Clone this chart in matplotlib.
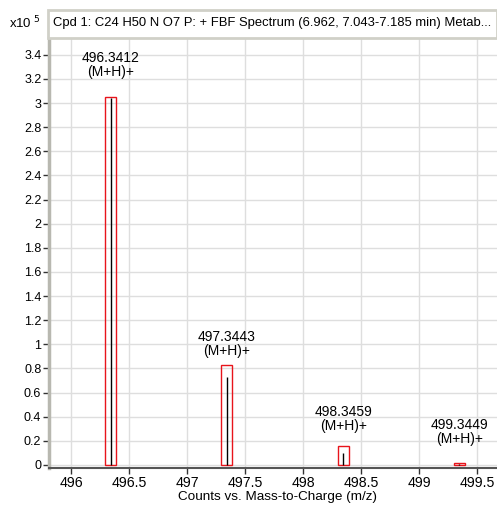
import matplotlib
matplotlib.use("Agg")
from matplotlib import pyplot as plt
from matplotlib.patches import Rectangle

plt.rcParams['font.family'] = ['Liberation Sans', 'DejaVu Sans']

# observed peaks (black sticks), counts x10^5
mz = [496.3412, 497.3443, 498.3459, 499.3449]
observed = [3.04, 0.73, 0.097, 0.005]
# predicted isotope pattern (red boxes)
pred_mz = [496.340, 497.342, 498.344, 499.347]
predicted = [3.05, 0.83, 0.158, 0.02]
ion = "(M+H)+"

xticks = [496, 496.5, 497, 497.5, 498, 498.5, 499, 499.5]
yticks = [0, 0.2, 0.4, 0.6, 0.8, 1, 1.2, 1.4, 1.6, 1.8, 2, 2.2, 2.4, 2.6, 2.8, 3, 3.2, 3.4]
title = "Cpd 1: C24 H50 N O7 P: + FBF Spectrum (6.962, 7.043-7.185 min) Metab..."

fig = plt.figure(figsize=(4.97, 5.05), dpi=100)
ax = fig.add_axes([0.0986, 0.0733, 0.9014, 0.8515])

ax.bar(pred_mz, predicted, width=0.095, fill=False, edgecolor='#e8141b', linewidth=1.0, zorder=3)
ax.vlines(mz, 0, observed, color='black', linewidth=1.0, zorder=4)

# label offsets in points above each box
offsets = [13, 5, 9, 12]
for x, h, m, off in zip(pred_mz, predicted, mz, offsets):
    ax.annotate(f"{m:.4f}\n{ion}", (x, h), xytext=(0, off), textcoords='offset points',
                ha='center', va='bottom', fontsize=10, linespacing=1.0)

ax.set_xlim(495.81, 499.67)
ax.set_ylim(-0.025, 3.54)
ax.set_xticks(xticks)
ax.set_xticklabels([f"{t:g}" for t in xticks])
ax.set_yticks(yticks)
ax.set_yticklabels([f"{t:g}" for t in yticks])
ax.tick_params(length=4, width=1, color='#333333', pad=1.5)
ax.tick_params(axis='x', labelsize=10.2)
ax.tick_params(axis='y', labelsize=9)
ax.grid(True, color='#dedede', linewidth=1)
ax.set_axisbelow(True)
for s in ['top', 'right']:
    ax.spines[s].set_visible(False)
ax.spines['left'].set_color('#b8b8b0')
ax.spines['left'].set_linewidth(2.5)
ax.spines['bottom'].set_color('#555555')
ax.spines['bottom'].set_linewidth(1.5)
ax.set_xlabel("Counts vs. Mass-to-Charge (m/z)", fontsize=9.7, va='center')
ax.xaxis.set_label_coords(0.51, -0.067)

# title strip
fig.patches.append(Rectangle((48 / 497, 1 - 38 / 505), 1 - 48 / 497, 28 / 505,
                             transform=fig.transFigure, facecolor='white',
                             edgecolor='#d0d0c8', linewidth=2))
fig.text(53 / 497, 1 - 23 / 505, title, fontsize=9.35, va='center', ha='left')
fig.text(9 / 497, 1 - 23 / 505, r"x10$^{\ 5}$", fontsize=9.5, va='center', ha='left')

fig.savefig("out.png", dpi=100)
